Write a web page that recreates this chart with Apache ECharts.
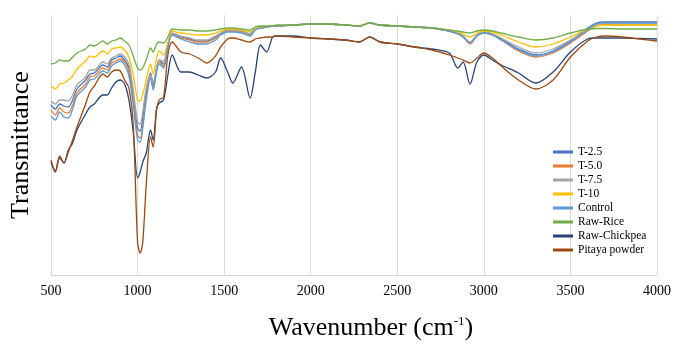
<!DOCTYPE html>
<html>
<head>
<meta charset="utf-8">
<script src="https://cdn.jsdelivr.net/npm/echarts@6/dist/echarts.min.js"></script>
<style>
html,body{margin:0;padding:0;background:#fff;}
#chart{width:679px;height:346px;}
</style>
</head>
<body>
<div id="chart"></div>
<script>
// wavenumber (cm-1)
var wavenumber = [500,525,550,575,600,625,650,700,725,750,800,825,850,875,900,925,950,975,
    1000,1015,1030,1050,1075,1090,1110,1125,1150,1175,1200,1250,1300,1350,1400,1450,
    1480,1520,1550,1600,1650,1680,1710,1745,1780,1800,1900,2000,2100,2200,2280,2340,
    2400,2500,2600,2700,2800,2850,2880,2920,2960,3000,3050,3100,3200,3300,3400,3500,
    3600,3650,3700,3800,3900,4000];

// transmittance, arbitrary units
var t25 = [170,166,171,169,168,175,186,195,201,202,210,208,215,217,219,215,207,180,147,144,157,183,202,190,206,215,211,230,241,238,236,234,234,238,242,245,245,244,241,247,248,248,249,249,250,251,251,250,249,252,250,249,248,247,244,242,239,232,240,243,241,236,226,220,224,234,247,252,253,253,253,253];
var t50 = [165,160,167,163,162,170,182,191,198,199,207,205,212,214,216,213,203,175,140,137,150,178,200,187,205,213,209,228,241,237,235,233,233,237,241,244,244,243,240,246,247,248,249,249,250,251,251,250,249,252,250,249,248,247,244,241,238,231,239,242,240,235,224,218,222,232,244,249,250.5,250,250,250];
var t75 = [174,171,175,175,174,180,190,198,205,205,213,211,217,219,221,218,211,185,153,151,163,187,200,193,207,215,214,231,242,239,237,235,235,239,242,245,245,244,241,246,247,248,249,249,250,251,251,250,249,252,250,249,248,247,244,242,239,233,240,243,241,237,228,222,226,235,245,250,251.5,251,251,251];
var t10 = [189,186,191,192,195,199,206,214,219,218,224,221,226,227,228,225,218,200,175,174,181,195,211,201,217,224,220,233,244,242,241,240,240,242,244,246,246,245,243,247,248,248,249,249,250,251,251,250,249,252,250,249,248,247,245,243,241,238,242,244,243,240,233,228,231,238,246,249,250,250,250,250];
var control = [159,155,163,158,157,166,179,188,195,196,204,202,209,212,214,210,199,170,135,133,147,175,197,185,203,211,207,227,240,236,233,231,231,235,240,243,243,242,239,245,247,248,249,249,250,251,251,250,249,252,250,249,248,247,244,241,238,232,239,242,240,235,225,219,223,233,245,251,252.5,252,252,252];
var rawRice = [211,212,215,214,214,218,222,226,230,229,234,231,234,235,237,234,230,219,207,205,207,215,227,223,231,233,232,238,246,245,245,244,244,245,246,247,247,246,245,248,249,249,249,250,250,251,251,250,249,252,250,249,248,247,245,244,243,242,244,245,244,242,238,235,237,242,246,246.5,246.5,246,246,246];
var rawChickpea = [113,103,117,112,125,132,145,161,168,171,180,180,187,193,195,191,175,143,97,103,113,122,145,135,167,172,175,200,220,203,203,200,197,203,217,203,192,208,177,203,230,223,238,239,239,237,236,235,233,238,233,231,228,226,222,207,213,191,213,220,215,210,202,192,203,223,236,237,237,237,236.5,236];
var pitaya = [115,104,119,112,123,135,148,171,183,189,201,198,203,205,204,195,187,150,33,22,33,90,138,128,165,175,178,220,233,223,221,217,212,219,228,236,237,235,233,236,237,238,238,239,238,237,236,235,233,238,233,231,228,225,220,217,215,212,217,222,217,209,195,186,195,218,234,238,239,238,236,234];

var names = ['T-2.5','T-5.0','T-7.5','T-10','Control','Raw-Rice','Raw-Chickpea','Pitaya powder'];
var values = [t25,t50,t75,t10,control,rawRice,rawChickpea,pitaya];
var colors = ['#4472C4','#ED7D31','#A5A5A5','#FFC000','#5B9BD5','#70AD47','#264478','#9E480E'];

var font = 'Liberation Serif';
var myChart = echarts.init(document.getElementById('chart'));

var series = [];
for (var k = 0; k < names.length; k++) {
    var pts = [];
    for (var i = 0; i < wavenumber.length; i++) {
        pts.push([wavenumber[i], values[k][i]]);
    }
    series.push({
        name: names[k],
        type: 'line',
        data: pts,
        symbol: 'none',
        smooth: 0.3,
        lineStyle: {width: 1.3, color: colors[k]},
        itemStyle: {color: colors[k]}
    });
}

var option = {
    animation: false,
    backgroundColor: '#fff',
    grid: {left: 48, right: 22, top: 15, bottom: 71},
    legend: {
        orient: 'vertical',
        left: 548,
        top: 141,
        itemWidth: 20,
        itemHeight: 10,
        itemGap: 2,
        selectedMode: false,
        textStyle: {fontFamily: font, fontSize: 11.5, color: '#000', lineHeight: 10},
        data: names.map(function (n, idx) {
            return {name: n, icon: 'path://M0,3.5 L20,3.5 L20,6.5 L0,6.5 Z', itemStyle: {color: colors[idx], borderWidth: 0}};
        })
    },
    xAxis: {
        type: 'value',
        min: 500,
        max: 4000,
        interval: 500,
        name: '{a|Wavenumber (cm}{b|-1}{a|)}',
        nameLocation: 'middle',
        nameGap: 40,
        nameTextStyle: {
            padding: [0, 0, 0, 34],
            rich: {
                a: {fontFamily: font, fontSize: 26, color: '#000'},
                b: {fontFamily: font, fontSize: 13, color: '#000', verticalAlign: 'top', padding: [0, 0, 10, 0]}
            }
        },
        axisLine: {lineStyle: {color: '#d9d9d9', width: 1}},
        axisTick: {show: false},
        axisLabel: {fontFamily: font, fontSize: 14, color: '#000', margin: 9, formatter: function (v) { return String(v); }},
        splitLine: {show: true, lineStyle: {color: '#d9d9d9', width: 1}}
    },
    yAxis: {
        type: 'value',
        min: 0,
        max: 260,
        name: 'Transmittance',
        nameLocation: 'middle',
        nameGap: 17,
        nameTextStyle: {fontFamily: font, fontSize: 26, color: '#000'},
        axisLine: {show: false},
        axisTick: {show: false},
        axisLabel: {show: false},
        splitLine: {show: false}
    },
    series: series
};

myChart.setOption(option);
</script>
</body>
</html>
